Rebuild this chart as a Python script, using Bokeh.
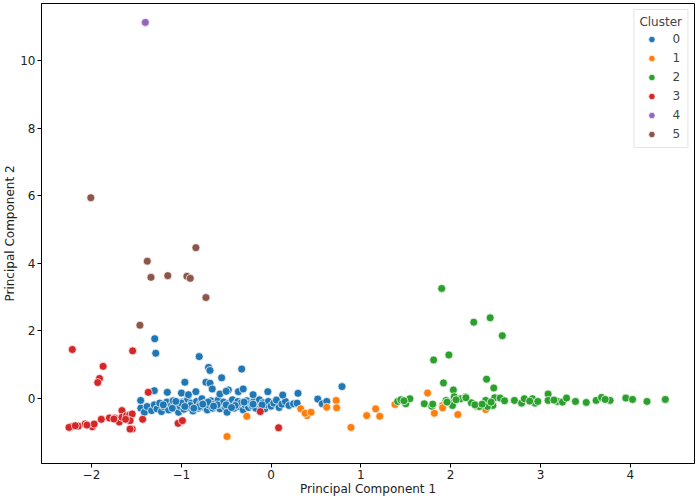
from bokeh.plotting import figure
from bokeh.models import Range1d, FixedTicker
from bokeh.embed import file_html
from bokeh.resources import INLINE

clusters = ["0", "1", "2", "3", "4", "5"]
colors = ["#1f77b4", "#ff7f0e", "#2ca02c", "#d62728", "#9467bd", "#8c564b"]

c0_x = [-1.45, -1.41, -1.38, -1.33, -1.30, -1.27, -1.24, -1.22, -1.19, -1.16, -1.14, -1.11, -1.09, -1.07,
        -1.05, -1.03, -1.01, -0.99, -0.97, -0.95, -0.93, -0.91, -0.89, -0.87, -0.85, -0.83, -0.81, -0.79,
        -0.77, -0.75, -0.73, -0.71, -0.69, -0.67, -0.65, -0.63, -0.61, -0.59, -0.57, -0.55, -0.53, -0.51,
        -0.49, -0.47, -0.45, -0.43, -0.41, -0.39, -0.37, -0.35, -0.33, -0.31, -0.29, -0.27, -0.25, -0.23,
        -0.21, -0.19, -0.17, -0.15, -0.13, -0.11, -0.09, -0.07, -0.05, -0.03, 0.00, 0.03, 0.06, 0.09,
        0.12, 0.16, 0.20,
        -1.20, -1.10, -1.00, -0.90, -0.80, -0.70, -0.60, -0.50, -0.40, -0.30, -0.20, -0.10, -0.86, -0.64,
        -0.44, -0.96, -1.06, -0.76,
        -1.295, -1.284, -0.80, -0.696, -0.68, -0.327, -0.96, -0.725, -0.68, -0.655, -0.55, -1.30, -1.155,
        -0.998, -0.92, -0.837, -0.57, -0.475, -0.364, -0.31, -0.036, 0.13, -1.452, 0.30, 0.25, 0.29, 0.52,
        0.57, 0.62, 0.79, -0.50, -0.20]
c0_y = [-0.30, -0.42, -0.25, -0.37, -0.20, -0.32, -0.15, -0.40, -0.26, -0.12, -0.35, -0.22, -0.08, -0.30,
        -0.18, -0.42, -0.25, -0.12, -0.33, -0.20, -0.05, -0.28, -0.15, -0.38, -0.22, -0.10, -0.30, -0.18,
        -0.02, -0.27, -0.14, -0.35, -0.21, -0.08, -0.30, -0.17, -0.25, -0.06, -0.32, -0.19, -0.12, -0.27,
        -0.42, -0.15, -0.23, -0.05, -0.30, -0.18, -0.10, -0.26, -0.14, -0.35, -0.20, -0.08, -0.28, -0.16,
        -0.23, -0.10, -0.30, -0.18, -0.05, -0.25, -0.14, -0.32, -0.20, -0.10, -0.24, -0.15, -0.06, -0.28,
        -0.18, -0.10, -0.22,
        -0.20, -0.30, -0.15, -0.22, -0.25, -0.12, -0.20, -0.20, -0.22, -0.12, -0.18, -0.20, -0.30, -0.24,
        -0.28, -0.25, -0.10, -0.18,
        1.76, 1.33, 1.23, 0.91, 0.82, 0.86, 0.47, 0.47, 0.44, 0.27, 0.60, 0.22, 0.17,
        0.15, 0.10, 0.19, 0.12, 0.24, 0.19, 0.27, 0.19, 0.09, -0.07, 0.14, -0.17, -0.15, -0.03,
        -0.17, -0.10, 0.34, 0.20, 0.10]

c1_x = [-0.49, -0.27, 0.33, 0.40, 0.38, 0.445, 0.62, 0.725, 0.73, 0.89, 1.065, 1.165, 1.21, 1.38,
        1.743, 1.818, 1.91, 1.91, 2.08, 2.29, 2.39]
c1_y = [-1.14, -0.54, -0.32, -0.52, -0.45, -0.42, -0.27, -0.07, -0.29, -0.87, -0.52, -0.32, -0.54, -0.19,
        0.15, -0.45, -0.22, -0.29, -0.49, -0.25, -0.34]

c2_x = [1.90, 2.257, 2.44, 2.575, 1.81, 1.98, 1.92, 2.40, 2.48, 2.03,
        1.41, 1.445, 1.50, 1.546, 1.706, 1.79, 1.95, 2.00, 2.04, 2.02, 2.11, 2.165, 2.23, 2.32, 2.39,
        2.47, 2.49, 2.55, 2.41, 2.71, 2.79, 2.82, 2.91, 2.94, 2.97, 3.085, 3.085, 3.19, 3.245, 3.29,
        3.39, 3.51, 3.62, 3.68, 3.775, 3.95, 4.025, 4.186, 4.39,
        1.80, 1.96, 2.06, 2.17, 2.27, 2.45, 1.48, 2.35, 2.60, 3.15, 3.72, 2.88]
c2_y = [3.25, 2.25, 2.38, 1.85, 1.13, 1.28, 0.45, 0.56, 0.30, 0.24,
        -0.10, -0.05, -0.17, -0.02, -0.17, -0.24, -0.07, -0.15, 0.04, -0.22, -0.02, 0.03, -0.14, -0.25, -0.07,
        -0.22, 0.01, 0.00, -0.25, -0.07, -0.15, -0.02, -0.02, -0.15, -0.10, 0.12, -0.07, -0.10, -0.12, 0.00,
        -0.10, -0.13, -0.07, 0.02, -0.07, 0.00, -0.04, -0.10, -0.04,
        -0.18, -0.12, -0.05, 0.01, -0.20, -0.12, -0.08, -0.18, -0.08, -0.06, -0.04, -0.09]

c3_x = [-2.213, -1.541, -1.87, -1.91, -1.93, -1.367, -2.228, -2.146, -2.07, -1.99, -1.97, -1.89, -1.80,
        -1.74, -1.69, -1.66, -1.66, -1.61, -1.575, -1.546, -1.57, -1.546, -1.57, -1.43, -1.035, -0.987,
        -0.12, 0.084, -2.25, -2.18, -2.05, -1.75, -1.62]
c3_y = [1.44, 1.40, 0.94, 0.58, 0.46, 0.17, -0.85, -0.83, -0.77, -0.85, -0.77, -0.63, -0.59,
        -0.59, -0.71, -0.37, -0.57, -0.52, -0.50, -0.47, -0.67, -0.92, -0.92, -0.63, -0.75, -0.67,
        -0.40, -0.88, -0.87, -0.82, -0.80, -0.62, -0.63]

c4_x = [-1.40]
c4_y = [11.14]

c5_x = [-2.007, -1.378, -1.337, -1.15, -0.937, -0.90, -0.837, -0.725, -1.46]
c5_y = [5.94, 4.06, 3.58, 3.63, 3.61, 3.55, 4.46, 2.98, 2.16]

xs = [c0_x, c1_x, c2_x, c3_x, c4_x, c5_x]
ys = [c0_y, c1_y, c2_y, c3_y, c4_y, c5_y]

x_ticks = [-2, -1, 0, 1, 2, 3, 4]
y_ticks = [0, 2, 4, 6, 8, 10]

FONT = "DejaVu Sans"

p = figure(width=697, height=498, output_backend="svg", toolbar_location=None,
           x_range=Range1d(-2.556, 4.715), y_range=Range1d(-1.94, 11.7),
           min_border_left=10, min_border_right=3, min_border_top=3, min_border_bottom=10)

for name, col, x, y in zip(clusters, colors, xs, ys):
    p.scatter(x, y, size=8, fill_color=col, line_color="white", line_width=0.7,
              legend_label=name)

p.xgrid.visible = False
p.ygrid.visible = False
p.outline_line_color = "black"
p.outline_line_width = 1
p.background_fill_color = "white"
p.border_fill_color = "white"

for ax, ticks, lab in [(p.xaxis[0], x_ticks, "Principal Component 1"),
                       (p.yaxis[0], y_ticks, "Principal Component 2")]:
    ax.ticker = FixedTicker(ticks=ticks)
    ax.minor_tick_line_color = None
    ax.major_tick_in = 0
    ax.major_tick_out = 4
    ax.axis_label = lab
    ax.axis_label_text_font = FONT
    ax.axis_label_text_font_size = "12px"
    ax.axis_label_text_font_style = "normal"
    ax.major_label_text_font = FONT
    ax.major_label_text_font_size = "12px"
    ax.major_label_text_color = "#222222"
    ax.axis_label_text_color = "#222222"
    ax.axis_line_color = "black"
    ax.major_tick_line_color = "black"
    ax.major_label_standoff = 2
    ax.axis_label_standoff = 0

p.xaxis.major_label_overrides = {-2: "\u22122", -1: "\u22121"}

leg = p.legend[0]
leg.title = "Cluster"
leg.title_text_font = FONT
leg.title_text_font_size = "12px"
leg.title_text_font_style = "normal"
leg.label_text_font = FONT
leg.label_text_font_size = "12px"
leg.location = "top_right"
leg.margin = 6
leg.padding = 5
leg.spacing = 3
leg.glyph_height = 16
leg.label_height = 16
leg.glyph_width = 24
leg.label_width = 8
leg.label_standoff = 9
leg.border_line_color = "#cccccc"
leg.border_line_width = 1
leg.background_fill_alpha = 0.8
leg.title_standoff = 2

open("out.html", "w").write(file_html(p, INLINE))
